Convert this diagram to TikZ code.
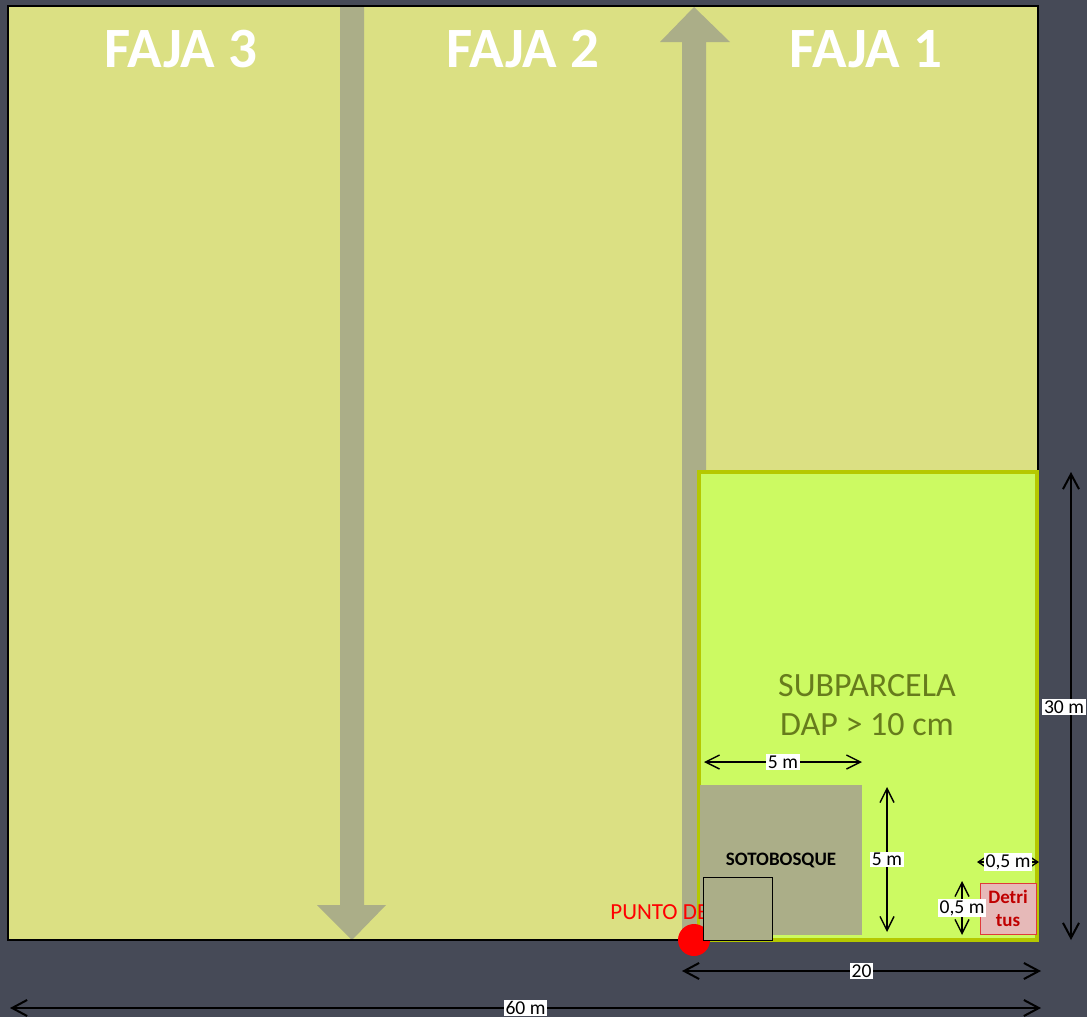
\documentclass[tikz,border=0pt]{standalone}
\usepackage{fontspec}
\setmainfont{Carlito}
\usetikzlibrary{arrows.meta}
\definecolor{bg}{HTML}{464A57}
\definecolor{fajafill}{HTML}{DBE083}
\definecolor{arrowgrey}{HTML}{ABAE88}
\definecolor{subfill}{HTML}{CCFA62}
\definecolor{subborder}{HTML}{B5C800}
\definecolor{subtext}{HTML}{677C1C}
\definecolor{detfill}{HTML}{E6B9B8}
\definecolor{detborder}{HTML}{E03A3A}
\definecolor{dettext}{HTML}{C00000}
\definecolor{puntored}{HTML}{FF0000}
\begin{document}
\begin{tikzpicture}[x=0.5pt,y=-0.5pt,
  dimline/.style={line width=0.7pt,
    {Straight Barb[length=7pt,width=7pt]}-{Straight Barb[length=7pt,width=7pt]}},
  bigdim/.style={line width=1pt,
    {Straight Barb[length=7.5pt,width=8pt]}-{Straight Barb[length=7.5pt,width=8pt]}},
  smalldim/.style={line width=0.7pt,
    {Straight Barb[length=3pt,width=4pt]}-{Straight Barb[length=3pt,width=4pt]}},
  dimlab/.style={fill=white, inner sep=0.8pt, text=black,
    font=\fontsize{9.8}{11}\selectfont},
  fajalab/.style={text=white, font=\fontsize{28.5}{31}\selectfont\bfseries}]
\fill[bg] (0,0) rectangle (1087,1017);
\useasboundingbox (0,0) rectangle (1087,1017);

% main plot
\fill[fajafill] (8,6) rectangle (1038,940);
% grey strip arrows
\fill[arrowgrey] (340,6) -- (364,6) -- (364,905) -- (386,905) -- (352,940)
  -- (317,905) -- (340,905) -- cycle;
\fill[arrowgrey] (682,940) -- (682,42) -- (660,42) -- (694,7) -- (730,42)
  -- (706,42) -- (706,940) -- cycle;
\draw[line width=0.8pt] (8,6) rectangle (1038,940);

\node[fajalab] (f3) at (181,49) {FAJA 3};
\node[fajalab] (f2) at (523,49) {FAJA 2};
\node[fajalab] (f1) at (866,49) {FAJA 1};

% subparcela
\draw[fill=subfill, draw=subborder, line width=2pt] (699,472) rectangle (1037,940);
\node[text=subtext, align=center, font=\fontsize{17}{19.5}\selectfont]
  (sub) at (867,705) {SUBPARCELA\\DAP > 10 cm};

% sotobosque
\fill[arrowgrey] (700,785) rectangle (862,935);
\node[font=\fontsize{9.5}{11}\selectfont\bfseries] (soto) at (781,860) {SOTOBOSQUE};

% punto de inicio
\node[anchor=west, text=puntored, font=\fontsize{11.5}{13}\selectfont, inner sep=0pt]
  (punto) at (610,912) {PUNTO DE};
\fill[puntored] (694,940) circle[radius=8pt];
\draw[fill=arrowgrey, line width=0.5pt] (703,877) rectangle (772,940);

% detritus
\draw[fill=detfill, draw=detborder, line width=0.5pt] (980,883) rectangle (1036,934);
\node[text=dettext, align=center, font=\fontsize{9.5}{11.5}\selectfont\bfseries]
  (det) at (1008,908) {Detri\\tus};

% dimension end points
\coordinate (a5l) at (704,762);  \coordinate (a5r) at (862,762);
\coordinate (b5t) at (887,787);  \coordinate (b5b) at (887,932);
\coordinate (c05l) at (977,862); \coordinate (c05r) at (1039,862);
\coordinate (d05t) at (962,881); \coordinate (d05b) at (962,935);
\coordinate (e20l) at (682,971); \coordinate (e20r) at (1041,971);
\coordinate (g60l) at (10,1008); \coordinate (g60r) at (1041,1008);
\coordinate (h30t) at (1071,472); \coordinate (h30b) at (1071,940);

\draw[dimline] (a5l) -- node[dimlab] (l5a) {5 m} (a5r);
\draw[dimline] (b5t) -- node[dimlab] (l5b) {5 m} (b5b);
\draw[smalldim] (c05l) -- node[dimlab] (l05a) {0,5 m} (c05r);
\draw[dimline] (d05t) -- node[dimlab] (l05b) {0,5 m} (d05b);
\draw[bigdim] (e20l) -- node[dimlab] (l20) {20} (e20r);
\draw[bigdim] (g60l) -- node[dimlab] (l60) {60 m} (g60r);
\draw[bigdim] (h30t) -- (h30b);
\node[dimlab, anchor=east] (l30) at (1086,707) {30 m};
\end{tikzpicture}
\end{document}
